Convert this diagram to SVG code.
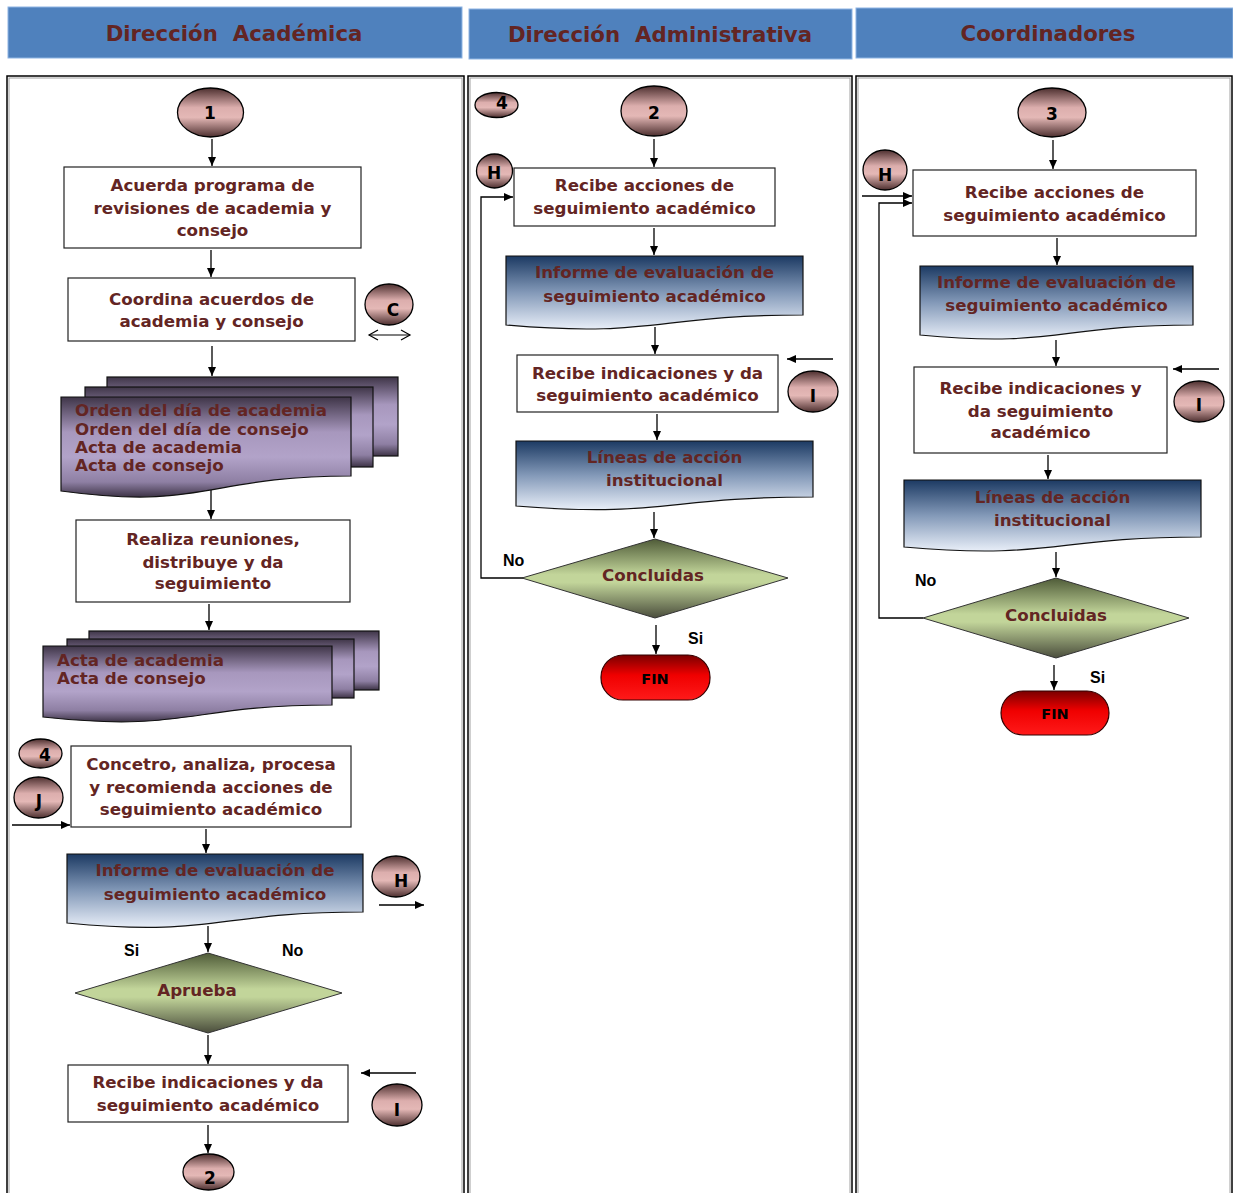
<svg xmlns="http://www.w3.org/2000/svg" width="1233" height="1193" viewBox="0 0 1233 1193">
<defs>
<linearGradient id="gPink" x1="0" y1="0" x2="0" y2="1">
<stop offset="0" stop-color="#4d2f2f"/><stop offset="0.4" stop-color="#dcaead"/><stop offset="0.6" stop-color="#e4b8b6"/><stop offset="1" stop-color="#4d2f2f"/>
</linearGradient>
<linearGradient id="gPurple" x1="0" y1="0" x2="0" y2="1">
<stop offset="0" stop-color="#3f3548"/><stop offset="0.35" stop-color="#a797bd"/><stop offset="0.6" stop-color="#b2a3c9"/><stop offset="0.85" stop-color="#8e7fa3"/><stop offset="1" stop-color="#3d3346"/>
</linearGradient>
<linearGradient id="gBlue" x1="0" y1="0" x2="0" y2="1">
<stop offset="0" stop-color="#1c3a63"/><stop offset="0.5" stop-color="#8399b8"/><stop offset="1" stop-color="#e8eef8"/>
</linearGradient>
<linearGradient id="gGreen" x1="0" y1="0" x2="0" y2="1">
<stop offset="0" stop-color="#4f5b38"/><stop offset="0.45" stop-color="#c2d59a"/><stop offset="0.55" stop-color="#c2d59a"/><stop offset="1" stop-color="#4a4d3c"/>
</linearGradient>
<linearGradient id="gRed" x1="0" y1="0" x2="0" y2="1">
<stop offset="0" stop-color="#7a0000"/><stop offset="0.45" stop-color="#f00000"/><stop offset="1" stop-color="#ff1a1a"/>
</linearGradient>
<marker id="ah" markerUnits="userSpaceOnUse" markerWidth="10" markerHeight="10" refX="9" refY="5" orient="auto">
<path d="M0,1 L9,5 L0,9 z" fill="#000"/>
</marker>
<marker id="oh" markerUnits="userSpaceOnUse" markerWidth="12" markerHeight="12" refX="10" refY="6" orient="auto-start-reverse">
<path d="M1,1 L10,6 L1,11" fill="none" stroke="#000" stroke-width="1.2"/>
</marker>
<style>
.hdr{fill:#4f81bd;stroke:#8eb4e3;stroke-width:1}
.ht{font-family:"DejaVu Sans",Verdana,sans-serif;font-weight:bold;font-size:21.3px;fill:#632523;text-anchor:middle;white-space:pre}
.frame{fill:none;stroke:#000;stroke-width:1.5}
.frame2{fill:none;stroke:#a0a0a0;stroke-width:1}
.box{fill:#fff;stroke:#222;stroke-width:1.2}
.t{font-family:"DejaVu Sans",Verdana,sans-serif;font-weight:bold;font-size:16.7px;fill:#632523;text-anchor:middle}
.tl{font-family:"DejaVu Sans",Verdana,sans-serif;font-weight:bold;font-size:16.7px;fill:#632523}
.cir{fill:url(#gPink);stroke:#000;stroke-width:1.3}
.ct{font-family:"DejaVu Sans",Verdana,sans-serif;font-weight:bold;font-size:17px;fill:#000;text-anchor:middle}
.doc{fill:url(#gPurple);stroke:#111;stroke-width:1.2}
.bdoc{fill:url(#gBlue);stroke:#111;stroke-width:1.2}
.dia{fill:url(#gGreen);stroke:#333;stroke-width:1}
.fin{fill:url(#gRed);stroke:#300;stroke-width:1.2}
.ft{font-family:"DejaVu Sans",Verdana,sans-serif;font-weight:bold;font-size:14.5px;fill:#000;text-anchor:middle}
.lb{font-family:"Liberation Sans",Arial,sans-serif;font-weight:bold;font-size:16px;fill:#000}
.c{fill:none;stroke:#000;stroke-width:1.3;marker-end:url(#ah)}
</style>
</defs>

<g id="headers">
<rect class="hdr" x="8" y="7" width="454" height="51"/>
<text class="ht" x="234" y="41" xml:space="preserve">Dirección  Académica</text>
<rect class="hdr" x="469" y="9" width="383" height="50"/>
<text class="ht" x="660" y="42" xml:space="preserve">Dirección  Administrativa</text>
<rect class="hdr" x="856" y="8" width="377" height="50"/>
<text class="ht" x="1048" y="41">Coordinadores</text>
</g>

<g id="lanes">
<rect class="frame" x="7" y="76" width="457" height="1140"/>
<rect class="frame2" x="9" y="78" width="453" height="1140"/>
<rect class="frame" x="468" y="76" width="384" height="1140"/>
<rect class="frame2" x="470" y="78" width="380" height="1140"/>
<rect class="frame" x="856" y="76" width="376" height="1140"/>
<rect class="frame2" x="858" y="78" width="372" height="1140"/>
</g>

<g id="connectors">
<path class="c" d="M212 139 V166"/>
<path class="c" d="M211 250 V277"/>
<path class="c" d="M212 346 V376"/>
<path class="c" d="M211 488 V519"/>
<path class="c" d="M209 604 V630"/>
<path class="c" d="M12 825 H70"/>
<path class="c" d="M206 829 V853"/>
<path class="c" d="M379 905 H424"/>
<path class="c" d="M208 926 V952"/>
<path class="c" d="M208 1035 V1064"/>
<path class="c" d="M416 1073 H361"/>
<path class="c" d="M208 1125 V1153"/>
<path d="M369 335 H410" fill="none" stroke="#000" stroke-width="1.2" marker-start="url(#oh)" marker-end="url(#oh)"/>

<path class="c" d="M654 139 V167"/>
<path class="c" d="M654 228 V255"/>
<path class="c" d="M655 327 V354"/>
<path class="c" d="M833 359 H787"/>
<path class="c" d="M657 414 V440"/>
<path class="c" d="M654 512 V538"/>
<path class="c" d="M656 625 V654"/>
<path class="c" d="M523 578 H481 V197 H513"/>

<path class="c" d="M1053 140 V169"/>
<path class="c" d="M862 196 H912"/>
<path class="c" d="M923 618 H879 V203 H912"/>
<path class="c" d="M1057 238 V265"/>
<path class="c" d="M1056 340 V366"/>
<path class="c" d="M1219 369 H1173"/>
<path class="c" d="M1048 455 V479"/>
<path class="c" d="M1056 552 V577"/>
<path class="c" d="M1054 665 V690"/>
</g>

<g id="n-c1">
<ellipse class="cir" cx="210.5" cy="112.5" rx="33" ry="24.5"/>
<text class="ct" x="210" y="119">1</text>
</g>
<g id="n-acuerda">
<rect class="box" x="64" y="167" width="297" height="81"/>
<text class="t" x="212.5" y="191">Acuerda programa de</text>
<text class="t" x="212.5" y="214">revisiones de academia y</text>
<text class="t" x="212.5" y="236">consejo</text>
</g>
<g id="n-coordina">
<rect class="box" x="68" y="278" width="287" height="63"/>
<text class="t" x="211.5" y="305">Coordina acuerdos de</text>
<text class="t" x="211.5" y="327">academia y consejo</text>
</g>
<g id="n-cC">
<ellipse class="cir" cx="389" cy="304.5" rx="24" ry="20.5"/>
<text class="ct" x="393" y="316">C</text>
</g>
<g id="n-orden">
<rect class="doc" x="107" y="377" width="291" height="79"/>
<rect class="doc" x="85" y="387" width="288" height="80"/>
<path class="doc" d="M61 397 H351 V476 C206 476 206 510.7 61 491 Z"/>
<text class="tl" x="75" y="416">Orden del día de academia</text>
<text class="tl" x="75" y="435">Orden del día de consejo</text>
<text class="tl" x="75" y="453">Acta de academia</text>
<text class="tl" x="75" y="471">Acta de consejo</text>
</g>
<g id="n-realiza">
<rect class="box" x="76" y="520" width="274" height="82"/>
<text class="t" x="213" y="545">Realiza reuniones,</text>
<text class="t" x="213" y="568">distribuye y da</text>
<text class="t" x="213" y="589">seguimiento</text>
</g>
<g id="n-actas">
<rect class="doc" x="89" y="631" width="290" height="59"/>
<rect class="doc" x="67" y="639" width="287" height="59"/>
<path class="doc" d="M43 646 H332 V705 C187.5 705 187.5 732.7 43 717 Z"/>
<text class="tl" x="57" y="666">Acta de academia</text>
<text class="tl" x="57" y="684">Acta de consejo</text>
</g>
<g id="n-c4a">
<ellipse class="cir" cx="40.5" cy="753.5" rx="21.5" ry="14.5"/>
<text class="ct" x="45" y="761">4</text>
</g>
<g id="n-cJ">
<ellipse class="cir" cx="38.5" cy="797.5" rx="24.5" ry="20.5"/>
<text class="ct" x="39" y="807">J</text>
</g>
<g id="n-concentra">
<rect class="box" x="71" y="746" width="280" height="81"/>
<text class="t" x="211" y="770">Concetro, analiza, procesa</text>
<text class="t" x="211" y="793">y recomienda acciones de</text>
<text class="t" x="211" y="815">seguimiento académico</text>
</g>
<g id="n-informe1">
<path class="bdoc" d="M67 854 H363 V912 C215 912 215 937.4 67 923 Z"/>
<text class="t" x="215" y="876">Informe de evaluación de</text>
<text class="t" x="215" y="900">seguimiento académico</text>
</g>
<g id="n-cHa">
<ellipse class="cir" cx="396" cy="876.5" rx="24" ry="20.5"/>
<text class="ct" x="401" y="887">H</text>
</g>
<g id="n-aprueba">
<polygon class="dia" points="208,953 342,993 208,1033 75,993"/>
<text class="t" x="197" y="996">Aprueba</text>
<text class="lb" x="124" y="956">Si</text>
<text class="lb" x="282" y="956">No</text>
</g>
<g id="n-recibe1">
<rect class="box" x="68" y="1065" width="280" height="57"/>
<text class="t" x="208" y="1088">Recibe indicaciones y da</text>
<text class="t" x="208" y="1111">seguimiento académico</text>
</g>
<g id="n-cIa">
<ellipse class="cir" cx="397" cy="1105" rx="25" ry="21"/>
<text class="ct" x="397" y="1116">I</text>
</g>
<g id="n-c2a">
<ellipse class="cir" cx="208.5" cy="1172" rx="25.5" ry="18"/>
<text class="ct" x="210" y="1184">2</text>
</g>

<g id="n-c4b">
<ellipse class="cir" cx="496.5" cy="105" rx="21.5" ry="12.5"/>
<text class="ct" x="502" y="109">4</text>
</g>
<g id="n-c2b">
<ellipse class="cir" cx="654" cy="111" rx="33" ry="25"/>
<text class="ct" x="654" y="119">2</text>
</g>
<g id="n-cHb">
<ellipse class="cir" cx="494.5" cy="171" rx="18" ry="17"/>
<text class="ct" x="494" y="179">H</text>
</g>
<g id="n-recibeAcc2">
<rect class="box" x="514" y="168" width="261" height="58"/>
<text class="t" x="644.5" y="191">Recibe acciones de</text>
<text class="t" x="644.5" y="214">seguimiento académico</text>
</g>
<g id="n-informe2">
<path class="bdoc" d="M506 256 H803 V315 C654.5 315 654.5 338.1 506 325 Z"/>
<text class="t" x="654.5" y="278">Informe de evaluación de</text>
<text class="t" x="654.5" y="302">seguimiento académico</text>
</g>
<g id="n-recibeInd2">
<rect class="box" x="517" y="355" width="261" height="57"/>
<text class="t" x="647.5" y="379">Recibe indicaciones y da</text>
<text class="t" x="647.5" y="401">seguimiento académico</text>
</g>
<g id="n-cIb">
<ellipse class="cir" cx="813" cy="391.5" rx="25" ry="20.5"/>
<text class="ct" x="813" y="402">I</text>
</g>
<g id="n-lineas2">
<path class="bdoc" d="M516 441 H813 V497 C664.5 497 664.5 517.8 516 506 Z"/>
<text class="t" x="664.5" y="463">Líneas de acción</text>
<text class="t" x="664.5" y="486">institucional</text>
</g>
<g id="n-concluidas2">
<polygon class="dia" points="655,539 788,578 655,618 522,578"/>
<text class="t" x="653" y="581">Concluidas</text>
<text class="lb" x="503" y="566">No</text>
<text class="lb" x="688" y="644">Si</text>
</g>
<g id="n-fin2">
<rect class="fin" x="601" y="655" width="109" height="45" rx="22" ry="22"/>
<text class="ft" x="655" y="684">FIN</text>
</g>

<g id="n-c3">
<ellipse class="cir" cx="1052" cy="112.5" rx="34" ry="24.5"/>
<text class="ct" x="1052" y="120">3</text>
</g>
<g id="n-cHc">
<ellipse class="cir" cx="885" cy="170" rx="22" ry="20"/>
<text class="ct" x="885" y="181">H</text>
</g>
<g id="n-recibeAcc3">
<rect class="box" x="913" y="170" width="283" height="66"/>
<text class="t" x="1054.5" y="198">Recibe acciones de</text>
<text class="t" x="1054.5" y="221">seguimiento académico</text>
</g>
<g id="n-informe3">
<path class="bdoc" d="M920 266 H1193 V325 C1056.5 325 1056.5 348.1 920 335 Z"/>
<text class="t" x="1056.5" y="288">Informe de evaluación de</text>
<text class="t" x="1056.5" y="311">seguimiento académico</text>
</g>
<g id="n-recibeInd3">
<rect class="box" x="914" y="367" width="253" height="86"/>
<text class="t" x="1040.5" y="394">Recibe indicaciones y</text>
<text class="t" x="1040.5" y="417">da seguimiento</text>
<text class="t" x="1040.5" y="438">académico</text>
</g>
<g id="n-cIc">
<ellipse class="cir" cx="1199" cy="401.5" rx="25" ry="20.5"/>
<text class="ct" x="1199" y="411">I</text>
</g>
<g id="n-lineas3">
<path class="bdoc" d="M904 480 H1201 V537 C1052.5 537 1052.5 560.1 904 547 Z"/>
<text class="t" x="1052.5" y="503">Líneas de acción</text>
<text class="t" x="1052.5" y="526">institucional</text>
</g>
<g id="n-concluidas3">
<polygon class="dia" points="1056,578 1189,618 1056,658 923,618"/>
<text class="t" x="1056" y="621">Concluidas</text>
<text class="lb" x="915" y="586">No</text>
<text class="lb" x="1090" y="683">Si</text>
</g>
<g id="n-fin3">
<rect class="fin" x="1001" y="691" width="108" height="44" rx="22" ry="22"/>
<text class="ft" x="1055" y="719">FIN</text>
</g>
</svg>
